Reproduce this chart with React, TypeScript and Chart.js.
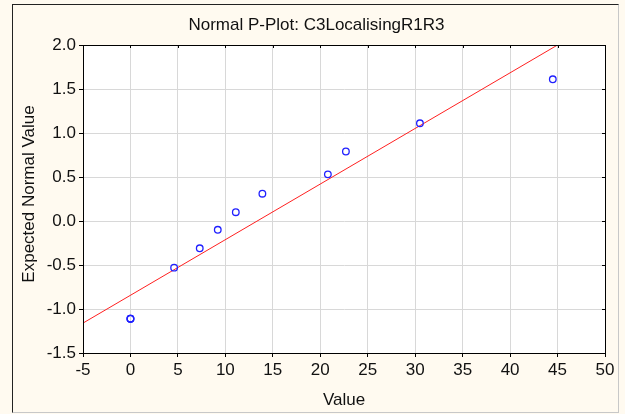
import React, { useEffect, useRef } from "react";
import { Chart, registerables } from "chart.js";

Chart.register(...registerables);

const chartTitle = "Normal P-Plot: C3LocalisingR1R3";
const xAxisTitle = "Value";
const yAxisTitle = "Expected Normal Value";

const observedValues = [0, 0, 0, 4.6, 7.3, 9.2, 11.1, 13.9, 20.8, 22.7, 30.5, 44.5];
const expectedNormal = [-1.11, -1.11, -1.11, -0.53, -0.31, -0.1, 0.1, 0.31, 0.53, 0.79, 1.11, 1.61];

const fitLineX = [-5, 45];
const fitLineY = [-1.16, 2.0];

const xMin = -5;
const xMax = 50;
const xStep = 5;
const yMin = -1.5;
const yMax = 2.0;
const yStep = 0.5;

const FONT = "'Liberation Sans', Arial, sans-serif";
const FONT_SIZE = 17;

const framePlugin = {
  id: "framePlugin",
  beforeDraw(chart: any) {
    const { ctx, chartArea } = chart;
    ctx.save();
    ctx.fillStyle = "#ffffff";
    ctx.fillRect(chartArea.left, chartArea.top, chartArea.right - chartArea.left, chartArea.bottom - chartArea.top);
    ctx.restore();
  },
  afterDraw(chart: any) {
    const { ctx, chartArea, scales } = chart;
    ctx.save();
    // inner ticks on top and right edges
    ctx.strokeStyle = "#000";
    ctx.lineWidth = 1;
    ctx.beginPath();
    scales.x.ticks.forEach((t: any) => {
      const px = Math.round(scales.x.getPixelForValue(t.value)) + 0.5;
      ctx.moveTo(px, chartArea.top);
      ctx.lineTo(px, chartArea.top + 3);
    });
    scales.y.ticks.forEach((t: any) => {
      const py = Math.round(scales.y.getPixelForValue(t.value)) + 0.5;
      ctx.moveTo(chartArea.right, py);
      ctx.lineTo(chartArea.right - 3, py);
    });
    ctx.stroke();
    // plot border
    ctx.strokeStyle = "#000";
    ctx.strokeRect(
      Math.round(chartArea.left) + 0.5,
      Math.round(chartArea.top) + 0.5,
      Math.round(chartArea.right - chartArea.left),
      Math.round(chartArea.bottom - chartArea.top)
    );
    // texts
    ctx.fillStyle = "#111";
    ctx.font = `${FONT_SIZE}px ${FONT}`;
    ctx.textAlign = "center";
    ctx.textBaseline = "alphabetic";
    ctx.fillText(chartTitle, 316.5, 30);
    ctx.fillText(xAxisTitle, (chartArea.left + chartArea.right) / 2, 405);
    ctx.translate(34, 194);
    ctx.rotate(-Math.PI / 2);
    ctx.fillText(yAxisTitle, 0, 0);
    ctx.restore();
  },
};

export default function App() {
  const canvasRef = useRef<HTMLCanvasElement | null>(null);

  useEffect(() => {
    if (!canvasRef.current) return;
    const points = observedValues.map((x, i) => ({ x, y: expectedNormal[i] }));
    const linePts = fitLineX.map((x, i) => ({ x, y: fitLineY[i] }));
    const chart = new Chart(canvasRef.current, {
      type: "scatter",
      data: {
        datasets: [
          {
            label: "fit",
            data: linePts,
            showLine: true,
            borderColor: "#ff2020",
            borderWidth: 1,
            pointRadius: 0,
            order: 2,
          },
          {
            label: "values",
            data: points,
            showLine: false,
            pointRadius: 3.3,
            pointBorderWidth: 1.3,
            pointBorderColor: "#2020ff",
            pointBackgroundColor: "rgba(0,0,0,0)",
            order: 1,
          },
        ],
      },
      options: {
        animation: false,
        responsive: false,
        devicePixelRatio: 1,
        layout: { padding: { top: 45, right: 20, bottom: 31, left: 43 } },
        plugins: {
          legend: { display: false },
          title: { display: false },
          tooltip: { enabled: false },
        },
        scales: {
          x: {
            type: "linear",
            min: xMin,
            max: xMax,
            border: { display: true, color: "#000", width: 1 },
            grid: { color: "#d8d8d8", lineWidth: 1, tickLength: 4, tickColor: "#000", drawTicks: true },
            ticks: {
              stepSize: xStep,
              color: "#111",
              padding: 3,
              font: { family: FONT, size: FONT_SIZE },
              maxRotation: 0,
              autoSkip: false,
            },
            afterFit: (s: any) => {
              s.height = 30;
            },
          },
          y: {
            type: "linear",
            min: yMin,
            max: yMax,
            border: { display: true, color: "#000", width: 1 },
            grid: { color: "#d8d8d8", lineWidth: 1, tickLength: 4, tickColor: "#000", drawTicks: true },
            ticks: {
              stepSize: yStep,
              color: "#111",
              padding: 3,
              font: { family: FONT, size: FONT_SIZE },
              callback: (v: any) => Number(v).toFixed(1),
              autoSkip: false,
            },
            afterFit: (s: any) => {
              s.width = 40;
            },
          },
        },
      },
      plugins: [framePlugin],
    });
    return () => chart.destroy();
  }, []);

  return (
    <div style={{ position: "absolute", left: 0, top: 0, width: 625, height: 414, background: "#fffaf0", overflow: "hidden" }}>
      <div
        style={{
          position: "absolute",
          left: 12,
          top: 4,
          width: 605,
          height: 407,
          borderLeft: "1px solid #222",
          borderTop: "1px solid #222",
          borderRight: "1px solid #c8c8c8",
          borderBottom: "1px solid #c8c8c8",
        }}
      />
      <canvas ref={canvasRef} width={625} height={414} style={{ position: "absolute", left: 0, top: 0, width: 625, height: 414 }} />
    </div>
  );
}
